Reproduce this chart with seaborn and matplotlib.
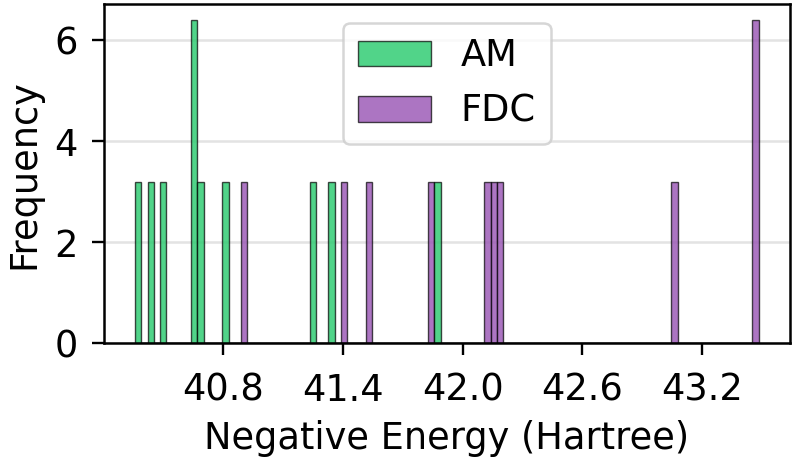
"""
Energy distribution histogram for AM vs FDC.
"""
import matplotlib
matplotlib.use("Agg")
import matplotlib.pyplot as plt
import pandas as pd
import seaborn as sns

# negative energies (Hartree)
am_energy = [40.373, 40.435, 40.498, 40.654, 40.656, 40.685,
             40.810, 41.248, 41.342, 41.874]
fdc_energy = [40.904, 41.404, 41.529, 41.842, 42.124, 42.155,
              42.186, 43.062, 43.466, 43.470]
methods = ["AM", "FDC"]
palette = {"AM": "#2ecc71", "FDC": "#9b59b6"}
x_ticks = [40.8, 41.4, 42.0, 42.6, 43.2]
y_ticks = [0, 2, 4, 6]

df = pd.DataFrame({
    "energy": am_energy + fdc_energy,
    "method": ["AM"] * len(am_energy) + ["FDC"] * len(fdc_energy),
})

sns.set_style("white")
plt.rcParams["font.family"] = ["DejaVu Sans"]
plt.rcParams["text.color"] = "black"
plt.rcParams["axes.labelcolor"] = "black"
plt.rcParams["xtick.color"] = "black"
plt.rcParams["ytick.color"] = "black"

FS = 26.5

fig, ax = plt.subplots(figsize=(7.93, 4.61), dpi=100)
fig.subplots_adjust(left=0.131, right=0.996, top=0.991, bottom=0.256)

ax.grid(axis="y", color="#e3e3e3", linewidth=1.8, zorder=0)
ax.set_axisbelow(True)

sns.histplot(data=df, x="energy", hue="method", hue_order=methods,
             palette=palette, stat="density", common_norm=False,
             bins=100, binrange=(40.357, 43.484), alpha=0.83,
             edgecolor=(0, 0, 0, 0.7), linewidth=1.0, ax=ax)

ax.set_xticks(x_ticks)
ax.set_yticks(y_ticks)
ax.set_xlabel("Negative Energy (Hartree)", fontsize=FS, labelpad=8)
ax.set_ylabel("Frequency", fontsize=FS, labelpad=9)
ax.tick_params(axis="both", labelsize=FS, length=8.6, width=1.7,
               direction="out", bottom=True, left=True, pad=10)
ax.tick_params(axis="x", pad=12)
for s in ax.spines.values():
    s.set_visible(True)
    s.set_color("black")
    s.set_linewidth(1.8)

sns.move_legend(ax, "upper center", title=None, fontsize=FS,
                frameon=True, borderaxespad=0.5)
leg = ax.get_legend()
leg.get_frame().set_edgecolor("#cccccc")
leg.get_frame().set_linewidth(1.8)

plt.savefig("out.png", dpi=100)
plt.close()
